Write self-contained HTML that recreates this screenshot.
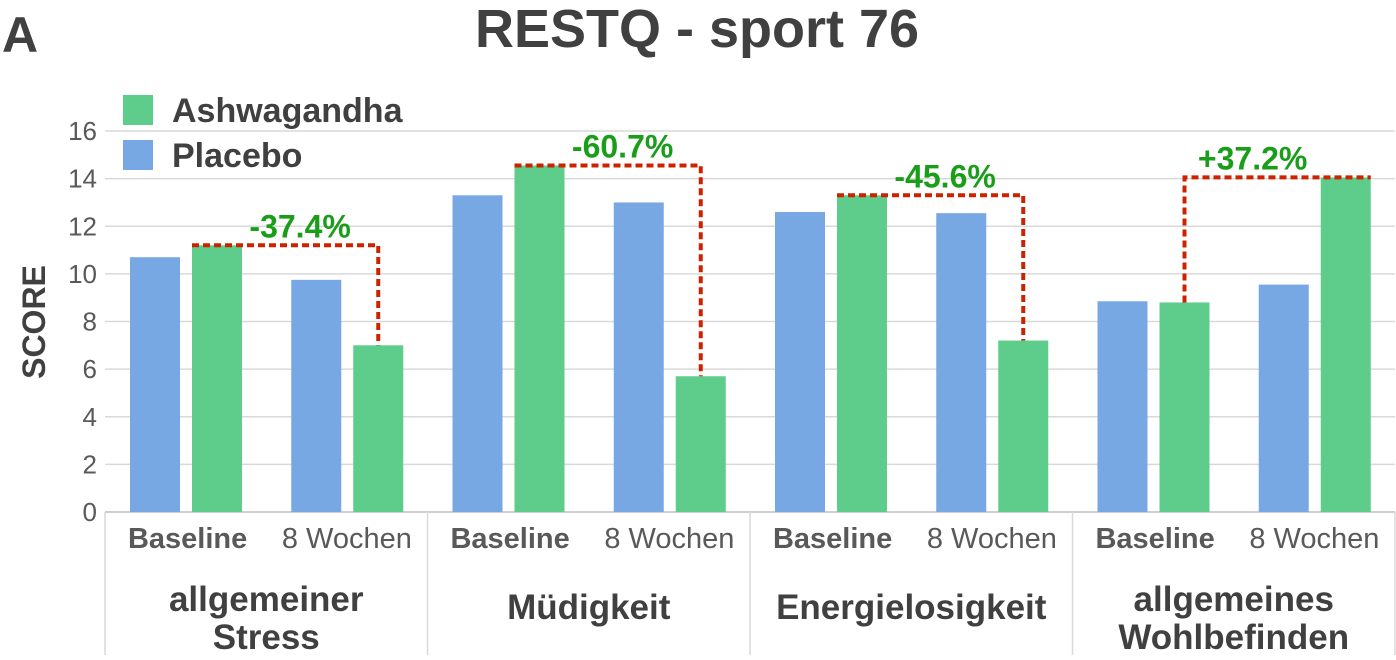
<!DOCTYPE html>
<html><head><meta charset="utf-8"><style>
body{margin:0;background:#fff;}
svg text{font-family:"Liberation Sans",sans-serif;}
</style></head><body>
<svg width="1396" height="655" viewBox="0 0 1396 655" xmlns="http://www.w3.org/2000/svg" id="chart">
<text x="2" y="52" font-size="50" font-weight="bold" fill="#404040">A</text>
<text x="697" y="47" font-size="54" font-weight="bold" fill="#404040" text-anchor="middle">RESTQ - sport 76</text>
<rect x="123" y="95" width="30" height="30" fill="#5ECC8B"/>
<text x="172" y="122" font-size="34" font-weight="bold" fill="#404040">Ashwagandha</text>
<rect x="123" y="140" width="30" height="30" fill="#78A8E4"/>
<text x="172" y="167" font-size="34" font-weight="bold" fill="#404040">Placebo</text>
<text transform="translate(45,322) rotate(-90)" font-size="32" font-weight="bold" fill="#404040" text-anchor="middle">SCORE</text>
<g id="grid"></g><g id="bars"></g><g id="annot"></g><g id="xaxis"></g>
</svg>
<script>
const categories=["allgemeiner|Stress","Müdigkeit","Energielosigkeit","allgemeines|Wohlbefinden"];
const timepoints=["Baseline","8 Wochen"];
const placeboBaseline=[10.7,13.3,12.6,8.85];
const ashwaBaseline=[11.2,14.55,13.3,8.8];
const placeboWeek8=[9.75,13.0,12.55,9.55];
const ashwaWeek8=[7.0,5.7,7.2,14.05];
const changeLabels=["-37.4%","-60.7%","-45.6%","+37.2%"];
const yTicks=[0,2,4,6,8,10,12,14,16];
const NS="http://www.w3.org/2000/svg";
const x0=105,x1=1395,yBase=512,yTop=131,yMax=16;
const y=v=>yBase-(v/yMax)*(yBase-yTop);
const gw=(x1-x0)/categories.length, sw=gw/2;
function mk(t,a,p){const e=document.createElementNS(NS,t);for(const k in a)e.setAttribute(k,a[k]);p.appendChild(e);return e;}
const grid=document.getElementById('grid'),bars=document.getElementById('bars'),annot=document.getElementById('annot'),xa=document.getElementById('xaxis');
yTicks.forEach(t=>{
 const l=mk('line',{x1:x0,x2:x1,y1:y(t),y2:y(t),stroke:t===0?'#bfbfbf':'#d9d9d9','stroke-width':1.5},grid);
 
 
 const tx=mk('text',{x:97,y:y(t)+9,'font-size':26,fill:'#595959','text-anchor':'end'},grid);
 tx.textContent=t;
 
 
});
const bw=50;
function bar(x,v,c,n){const r=mk('rect',{x:x,y:y(v),width:bw,height:yBase-y(v),fill:c},bars);
 
 }
categories.forEach((c,i)=>{
 const gx=x0+i*gw;
 const s0=gx, s1=gx+sw;
 bar(s0+25,placeboBaseline[i],'#78A8E4','bar-placebo-baseline-'+i);
 bar(s0+87,ashwaBaseline[i],'#5ECC8B','bar-ashwagandha-baseline-'+i);
 bar(s1+25,placeboWeek8[i],'#78A8E4','bar-placebo-week8-'+i);
 bar(s1+87,ashwaWeek8[i],'#5ECC8B','bar-ashwagandha-week8-'+i);
 const ax=s0+87, cx=s1+87+bw/2, ya=y(ashwaBaseline[i]), yb=y(ashwaWeek8[i]);
 const top=Math.min(ya,yb);
 const p=mk('path',{d:`M${ax},${ya} L${cx},${ya} L${cx},${yb}`,fill:'none',stroke:'#CC2200','stroke-width':4,'stroke-dasharray':'7,4'},annot);
 if(ashwaWeek8[i]>ashwaBaseline[i]){p.setAttribute('d',`M${ax+bw/2},${ya} L${ax+bw/2},${yb} L${s1+87+bw},${yb}`);}
 
 
 const lt=mk('text',{x:(ax+cx)/2+ (ashwaWeek8[i]>ashwaBaseline[i]?0:15),y:top-8,'font-size':32,'font-weight':'bold',fill:'#1A9E1A','text-anchor':'middle'},annot);
 lt.textContent=changeLabels[i];
 
 
 timepoints.forEach((t,j)=>{
  const tt=mk('text',{x:gx+sw*j+sw/2+(j===0?2:0),y:548,'font-size':29,'font-weight':j===0?'bold':'normal',fill:'#595959','text-anchor':'middle'},xa);
  tt.textContent=t;
  
  
 });
 const parts=c.split('|');
 parts.forEach((pt,k)=>{
  const ct=mk('text',{x:gx+gw/2,y:(parts.length===1?619:611)+k*38,'font-size':35,'font-weight':'bold',fill:'#404040','text-anchor':'middle'},xa);
  ct.textContent=pt;
  
  
 });
});
for(let i=0;i<=categories.length;i++){
 const l=mk('line',{x1:x0+i*gw,x2:x0+i*gw,y1:yBase,y2:655,stroke:'#d9d9d9','stroke-width':1.5},xa);
 
 
}
</script>
</body></html>
